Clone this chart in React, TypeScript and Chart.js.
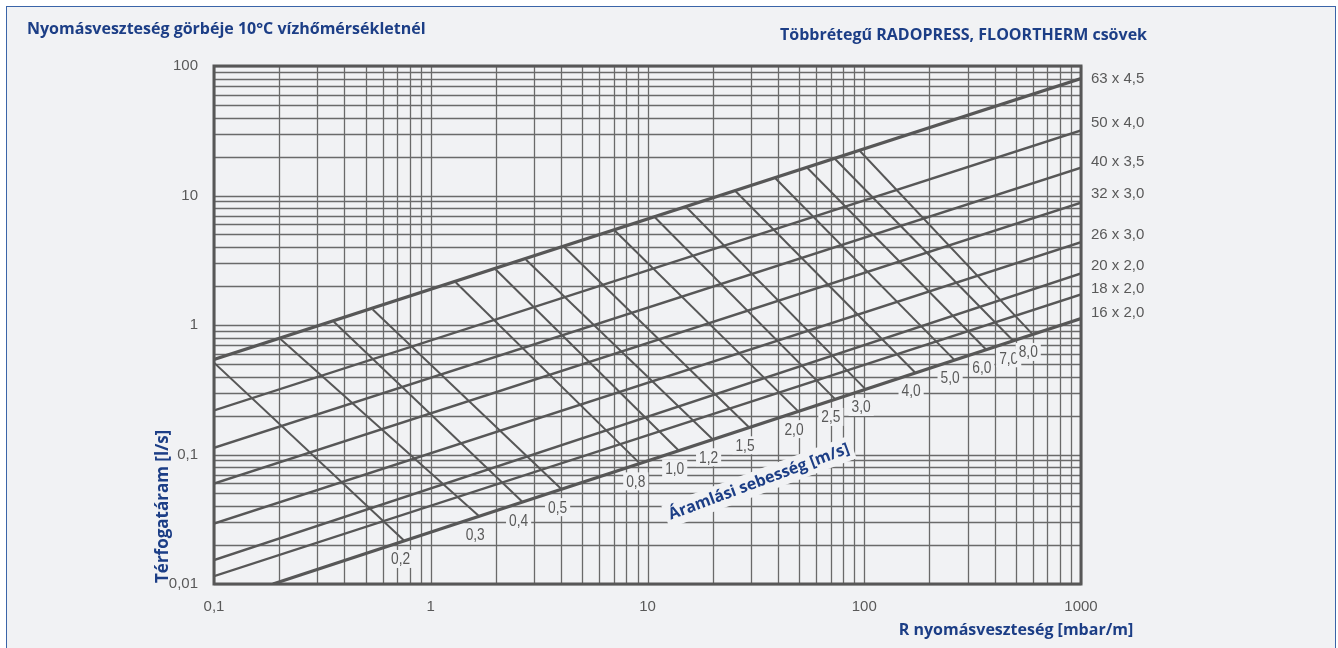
import { useEffect, useRef } from 'react';
import { Chart, registerables } from 'chart.js';

Chart.register(...registerables);

// Axis decades and their printed labels (decimal comma)
const xDecadeTicks = [0.1, 1, 10, 100, 1000];
const xTickLabels = ['0,1', '1', '10', '100', '1000'];
const yDecadeTicks = [0.01, 0.1, 1, 10, 100];
const yTickLabels = ['0,01', '0,1', '1', '10', '100'];
const gridSteps = [1, 2, 3, 4, 5, 6, 7, 8, 9];

// Pipe characteristic lines: flow [l/s] vs. pressure loss R [mbar/m]
const pipeNames = ['63 x 4,5', '50 x 4,0', '40 x 3,5', '32 x 3,0', '26 x 3,0', '20 x 2,0', '18 x 2,0', '16 x 2,0'];
const pipeStartR = [0.1, 0.1, 0.1, 0.1, 0.1, 0.1, 0.1, 0.187];
const pipeStartQ = [0.542, 0.219, 0.1127, 0.0597, 0.0293, 0.0153, 0.0115, 0.01];
const pipeEndR = [1000, 1000, 1000, 1000, 1000, 1000, 1000, 1000];
const pipeEndQ = [80, 31.8, 16.4, 8.79, 4.36, 2.5, 1.72, 1.12];

// Constant flow-velocity lines [m/s], from the 63 x 4,5 line down to the 16 x 2,0 line
const velocityLabels = ['0,2', '0,3', '0,4', '0,5', '0,8', '1,0', '1,2', '1,5', '2,0', '2,5', '3,0', '4,0', '5,0', '6,0', '7,0', '8,0'];
const velTopR = [0.1, 0.202, 0.357, 0.54, 1.303, 1.994, 2.751, 4.115, 7.036, 10.81, 15.12, 25.5, 38.99, 54.56, 72.97, 94.1];
const velTopQ = [0.512, 0.782, 1.059, 1.317, 2.141, 2.683, 3.187, 4.018, 5.395, 6.797, 8.121, 10.79, 13.53, 16.37, 19.31, 22.66];
const velBottomR = [0.757, 1.673, 2.653, 4.015, 9.21, 13.93, 19.97, 29.39, 49.48, 73.2, 101.0, 171.6, 259.8, 363.8, 484.0, 595.6];
const velBottomQ = [0.0215, 0.0333, 0.0429, 0.054, 0.0854, 0.1074, 0.1311, 0.1622, 0.2163, 0.2688, 0.3211, 0.4297, 0.5405, 0.6504, 0.7619, 0.8536];

// Styling
const BG = '#f1f2f4';
const LINE = '#575757';
const GRID = '#6a6a6a';
const TEXT_GRAY = '#595959';
const BLUE = '#1c3e86';
const TITLE_FONT = 'bold 16px "Open Sans", sans-serif';
const pipeLabelNudge = [0, -8, -6, -9, -7, -8, -6, -6];

const overlayPlugin = {
  id: 'overlay',
  beforeDatasetsDraw(chart: any) {
    const { ctx, chartArea: a, scales } = chart;
    const xs = scales.x;
    const ys = scales.y;
    ctx.save();
    ctx.strokeStyle = GRID;
    ctx.lineWidth = 1.3;
    ctx.beginPath();
    xDecadeTicks.forEach((d) => {
      gridSteps.forEach((s) => {
        const v = d * s;
        if (v > 1000) return;
        const px = Math.round(xs.getPixelForValue(v)) + 0.5;
        ctx.moveTo(px, a.top);
        ctx.lineTo(px, a.bottom);
      });
    });
    yDecadeTicks.forEach((d) => {
      gridSteps.forEach((s) => {
        const v = d * s;
        if (v > 100) return;
        const py = Math.round(ys.getPixelForValue(v)) + 0.5;
        ctx.moveTo(a.left, py);
        ctx.lineTo(a.right, py);
      });
    });
    ctx.stroke();
    ctx.restore();
  },
  afterDatasetsDraw(chart: any) {
    const { ctx, chartArea: a, scales } = chart;
    const xs = scales.x;
    const ys = scales.y;
    ctx.save();

    // plot frame
    ctx.strokeStyle = LINE;
    ctx.lineWidth = 3;
    ctx.strokeRect(a.left, a.top, a.right - a.left, a.bottom - a.top);

    // velocity labels with opaque boxes
    ctx.font = '16px "Liberation Sans", Arial, sans-serif';
    ctx.textAlign = 'center';
    ctx.textBaseline = 'middle';
    velocityLabels.forEach((lab, i) => {
      const px = xs.getPixelForValue(velBottomR[i]) - 4;
      const py = ys.getPixelForValue(velBottomQ[i]) + 18;
      const w = ctx.measureText(lab).width * 0.86;
      ctx.fillStyle = BG;
      ctx.fillRect(px - w / 2 - 3, py - 9, w + 6, 18);
      ctx.save();
      ctx.translate(px, py);
      ctx.scale(0.86, 1);
      ctx.fillStyle = TEXT_GRAY;
      ctx.fillText(lab, 0, 1);
      ctx.restore();
    });

    // rotated velocity caption
    ctx.save();
    ctx.translate(759, 482);
    ctx.rotate((-20.5 * Math.PI) / 180);
    ctx.font = TITLE_FONT;
    const cap = 'Áramlási sebesség [m/s]';
    const cw = ctx.measureText(cap).width;
    ctx.fillStyle = BG;
    ctx.fillRect(-cw / 2 - 4, -12, cw + 8, 24);
    ctx.fillStyle = BLUE;
    ctx.fillText(cap, 0, 0);
    ctx.restore();

    // pipe size labels at the right end of each line
    ctx.font = '15px "Liberation Sans", Arial, sans-serif';
    ctx.textAlign = 'left';
    ctx.fillStyle = TEXT_GRAY;
    pipeNames.forEach((n, i) => {
      const py = ys.getPixelForValue(pipeEndQ[i]) + pipeLabelNudge[i];
      ctx.fillText(n, a.right + 10, py);
    });

    // titles
    ctx.fillStyle = BLUE;
    ctx.font = TITLE_FONT;
    ctx.textAlign = 'left';
    ctx.fillText('Nyomásveszteség görbéje 10°C vízhőmérsékletnél', 27, 29);
    ctx.textAlign = 'right';
    ctx.fillText('Többrétegű RADOPRESS, FLOORTHERM csövek', 1147, 35);
    ctx.textAlign = 'center';
    ctx.fillText('R nyomásveszteség [mbar/m]', 1016, 630);

    ctx.save();
    ctx.translate(163, 583);
    ctx.rotate(-Math.PI / 2);
    ctx.textAlign = 'left';
    ctx.font = 'bold 17px "Open Sans", sans-serif';
    ctx.fillText('Térfogatáram [l/s]', 0, 0);
    ctx.restore();

    ctx.restore();
  },
};

export default function App() {
  const ref = useRef<HTMLCanvasElement>(null);

  useEffect(() => {
    const canvas = ref.current;
    if (!canvas) return;
    const datasets: any[] = [];
    pipeNames.forEach((name, i) => {
      datasets.push({
        label: name,
        data: [
          { x: pipeStartR[i], y: pipeStartQ[i] },
          { x: pipeEndR[i], y: pipeEndQ[i] },
        ],
        borderColor: LINE,
        borderWidth: i === 0 || i === pipeNames.length - 1 ? 3.2 : 2.4,
        pointRadius: 0,
        fill: false,
        clip: 0,
      });
    });
    velocityLabels.forEach((lab, i) => {
      datasets.push({
        label: lab + ' m/s',
        data: [
          { x: velTopR[i], y: velTopQ[i] },
          { x: velBottomR[i], y: velBottomQ[i] },
        ],
        borderColor: LINE,
        borderWidth: 2,
        pointRadius: 0,
        fill: false,
        clip: 0,
      });
    });

    const tickFont = { family: '"Liberation Sans", Arial, sans-serif', size: 15 };
    const chart = new Chart(canvas, {
      type: 'line',
      data: { datasets },
      options: {
        animation: false,
        responsive: false,
        events: [],
        layout: { padding: { left: 0, top: 66, right: 257, bottom: 0 } },
        plugins: {
          legend: { display: false },
          tooltip: { enabled: false },
        },
        scales: {
          x: {
            type: 'logarithmic',
            min: 0.1,
            max: 1000,
            grid: { display: false },
            border: { display: false },
            afterBuildTicks: (s: any) => {
              s.ticks = xDecadeTicks.map((v) => ({ value: v }));
            },
            afterFit: (s: any) => {
              s.height = 64;
            },
            ticks: {
              autoSkip: false,
              maxRotation: 0,
              minRotation: 0,
              padding: 6,
              color: TEXT_GRAY,
              font: tickFont,
              callback: (_v: any, idx: number) => xTickLabels[idx],
            },
          },
          y: {
            type: 'logarithmic',
            min: 0.01,
            max: 100,
            grid: { display: false },
            border: { display: false },
            afterBuildTicks: (s: any) => {
              s.ticks = yDecadeTicks.map((v) => ({ value: v }));
            },
            afterFit: (s: any) => {
              s.width = 214;
            },
            ticks: {
              autoSkip: false,
              padding: 8,
              color: TEXT_GRAY,
              font: tickFont,
              callback: (_v: any, idx: number) => yTickLabels[idx],
            },
          },
        },
      } as any,
      plugins: [overlayPlugin],
    });
    return () => chart.destroy();
  }, []);

  return (
    <div style={{ position: 'fixed', left: 0, top: 0, width: 1338, height: 648, background: '#ffffff', overflow: 'hidden' }}>
      <div
        style={{
          position: 'absolute',
          left: 6,
          top: 6,
          width: 1328,
          height: 700,
          border: '1px solid #3a64a8',
          background: BG,
        }}
      />
      <canvas ref={ref} width={1338} height={648} style={{ position: 'absolute', left: 0, top: 0 }} />
    </div>
  );
}
